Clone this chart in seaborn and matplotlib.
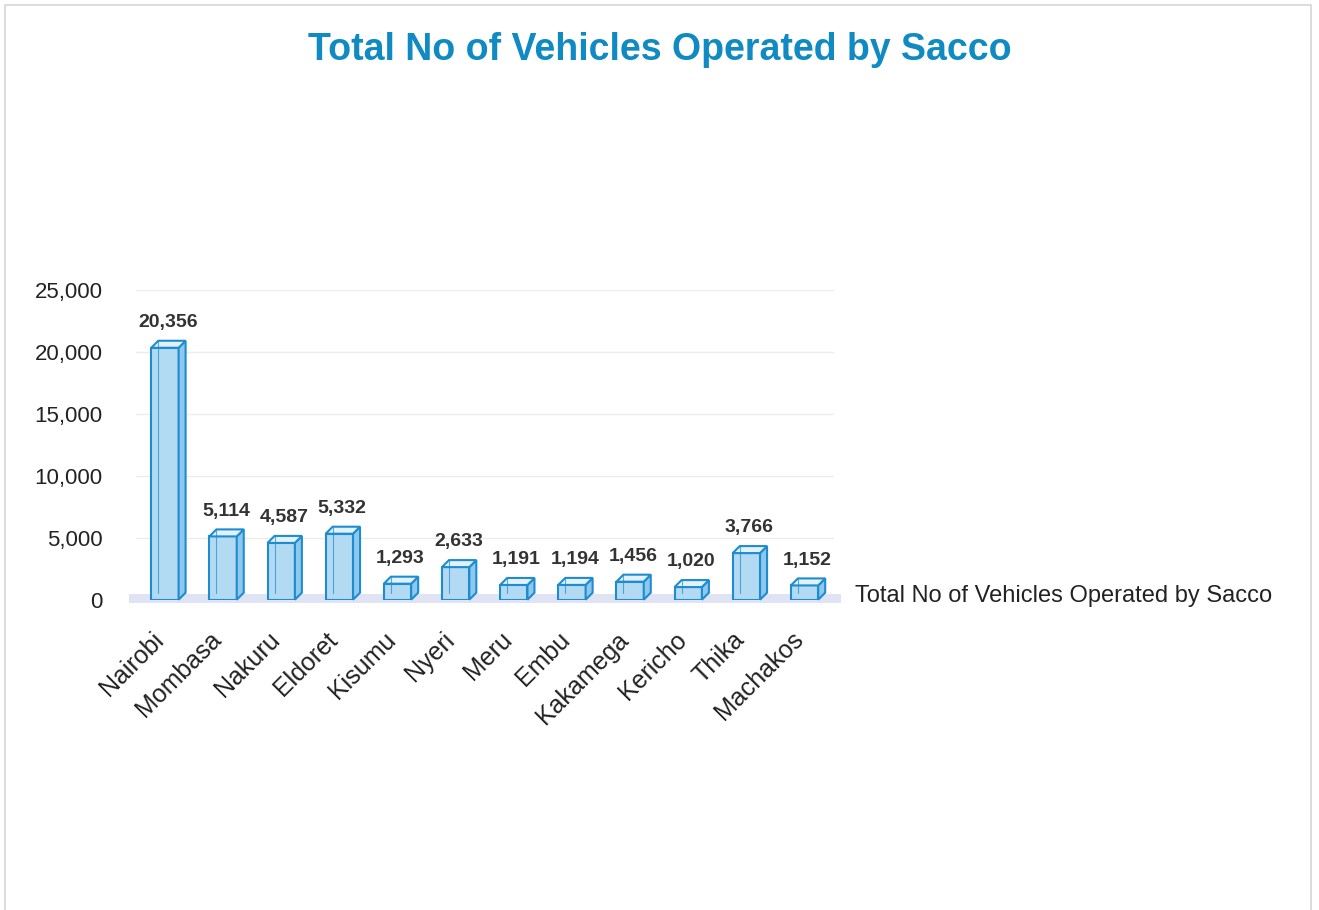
import matplotlib
matplotlib.use("Agg")
import matplotlib.pyplot as plt
import matplotlib.patches as mpatches
import matplotlib.transforms as mtransforms
import seaborn as sns
import pandas as pd

# data
towns = ["Nairobi", "Mombasa", "Nakuru", "Eldoret", "Kisumu", "Nyeri", "Meru",
         "Embu", "Kakamega", "Kericho", "Thika", "Machakos"]
vehicles = [20356, 5114, 4587, 5332, 1293, 2633, 1191, 1194, 1456, 1020, 3766, 1152]
yticks = [0, 5000, 10000, 15000, 20000, 25000]
series_name = "Total No of Vehicles Operated by Sacco"

sns.set_style("white")
plt.rcParams["font.family"] = ["Liberation Sans", "DejaVu Sans"]

df = pd.DataFrame({"town": towns, "vehicles": vehicles})

fig = plt.figure(figsize=(13.19, 9.10), dpi=100)
ax = fig.add_axes([0.103, 0.341, 0.529, 0.340])

front = "#b3daf3"
edge = "#1e8ccf"
sns.barplot(data=df, x="town", y="vehicles", color=front, width=0.47,
            edgecolor=edge, linewidth=1.5, saturation=1, ax=ax, zorder=3)

ax.set_xlim(-0.5, len(towns) - 0.5)
ax.set_ylim(0, 25000)
ax.set_yticks(yticks)
ax.set_yticklabels([f"{v:,}" for v in yticks], fontsize=16, color="#222222")
ax.set_xlabel("")
ax.set_ylabel("")
ax.tick_params(axis="y", length=0, pad=24)
ax.tick_params(axis="x", length=0, pad=20)
shift = mtransforms.ScaledTranslation(-10 / 72, 0, fig.dpi_scale_trans)
for lab in ax.get_xticklabels():
    lab.set_rotation(45)
    lab.set_ha("right")
    lab.set_rotation_mode("anchor")
    lab.set_fontsize(18)
    lab.set_color("#222222")
    lab.set_transform(lab.get_transform() + shift)
sns.despine(ax=ax, left=True, bottom=True)
ax.yaxis.grid(True, color="#ececec", linewidth=1)
ax.set_axisbelow(True)

# fake 3d: top and side faces from each bar's own position
fig.canvas.draw()
d = 7  # depth in pixels
inv = ax.transData.inverted()
bars = list(ax.patches)
for p in bars:
    x0, y0 = p.get_x(), p.get_y()
    x1, y1 = x0 + p.get_width(), y0 + p.get_height()
    (X0, Y0), (X1, Y1) = ax.transData.transform([(x0, y0), (x1, y1)])
    top = inv.transform([(X0, Y1), (X1, Y1), (X1 + d, Y1 + d), (X0 + d, Y1 + d)])
    side = inv.transform([(X1, Y0), (X1 + d, Y0 + d), (X1 + d, Y1 + d), (X1, Y1)])
    back = inv.transform([(X0 + d, Y0 + d), (X0 + d, Y1 + d)])
    ax.add_patch(mpatches.Polygon(side, closed=True, facecolor="#8ec8ee",
                                  edgecolor=edge, linewidth=1.5, zorder=4,
                                  clip_on=False))
    ax.add_patch(mpatches.Polygon(top, closed=True, facecolor="#e2f2fc",
                                  edgecolor=edge, linewidth=1.5, zorder=4,
                                  clip_on=False))
    ax.plot(back[:, 0], back[:, 1], color=edge, linewidth=0.8, alpha=0.7,
            zorder=4, scalex=False, scaley=False)
    ax.annotate(f"{int(round(p.get_height())):,}", ((x0 + x1) / 2, y1),
                xytext=(2, d + 5), textcoords="offset points", ha="center",
                va="bottom", fontsize=14, fontweight="bold", color="#333333",
                zorder=5)

# floor strip of the 3d chart
ax.add_patch(mpatches.Rectangle((-0.01, -0.012), 1.02, 0.03, transform=ax.transAxes,
                                facecolor="#e0e3f3", edgecolor="none", zorder=1,
                                clip_on=False))
ax.set_xlim(-0.5, len(towns) - 0.5)

fig.text(0.5, 0.945, series_name, ha="center", va="center", fontsize=27,
         fontweight="bold", color="#0f8ac2")
fig.text(855 / 1319, 1 - 596 / 910, series_name, ha="left", va="center",
         fontsize=17, color="#222222")

# light frame around the chart
fig.add_artist(mpatches.Rectangle((0.004, -0.01), 0.99, 1.004,
                                  transform=fig.transFigure, fill=False,
                                  edgecolor="#d6d6d6", linewidth=1.2))

fig.savefig("out.png", dpi=100)
